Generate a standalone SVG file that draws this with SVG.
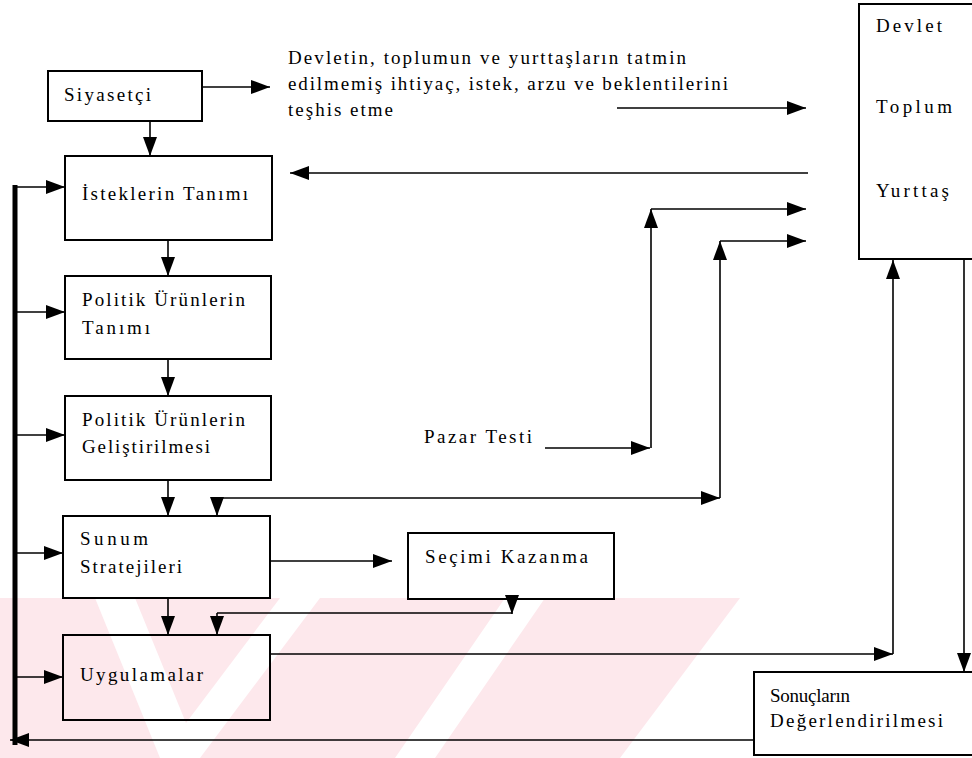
<svg xmlns="http://www.w3.org/2000/svg" width="972" height="758" viewBox="0 0 972 758">
<style>
.box{fill:none;stroke:#000;stroke-width:2}
.t{font-family:"Liberation Serif","Times New Roman",serif;font-size:19px;fill:#000}
.c{stroke:#000;stroke-width:1.6;fill:none}
.ca{stroke:#000;stroke-width:1.6;fill:none;marker-end:url(#ah)}
.wm{fill:#fde8ec}
</style>
<defs>
<marker id="ah" markerUnits="userSpaceOnUse" markerWidth="20" markerHeight="16" refX="19" refY="8" orient="auto" viewBox="0 0 20 16">
<path d="M0,1 L19,8 L0,15 Z" fill="#000"/>
</marker>
</defs>
<rect width="972" height="758" fill="#fff"/>
<g id="watermark">
<polygon class="wm" points="0,598 95,598 160,758 0,758"/>
<polygon class="wm" points="135,598 280,598 186,723"/>
<polygon class="wm" points="320,598 505,598 395,758 200,758"/>
<polygon class="wm" points="545,598 740,598 620,758 435,758"/>
</g>
<g id="connectors">
<line class="ca" x1="202" y1="87" x2="270" y2="87"/>
<line class="ca" x1="150" y1="121" x2="150" y2="156"/>
<line class="ca" x1="617" y1="108" x2="806" y2="108"/>
<line class="ca" x1="808" y1="173" x2="290" y2="173"/>
<line class="ca" x1="545" y1="448" x2="650" y2="448"/>
<line class="ca" x1="651" y1="448" x2="651" y2="209"/>
<line class="ca" x1="651" y1="209" x2="806" y2="209"/>
<line class="ca" x1="217" y1="498" x2="720" y2="498"/>
<line class="ca" x1="217" y1="498" x2="217" y2="516"/>
<line class="ca" x1="720" y1="498" x2="720" y2="241"/>
<line class="ca" x1="720" y1="241" x2="806" y2="241"/>
<line class="ca" x1="168" y1="240" x2="168" y2="276"/>
<line class="ca" x1="168" y1="359" x2="168" y2="396"/>
<line class="ca" x1="168" y1="480" x2="168" y2="516"/>
<line class="ca" x1="270" y1="561" x2="392" y2="561"/>
<line class="ca" x1="168" y1="598" x2="168" y2="635"/>
<line class="ca" x1="512" y1="597" x2="512" y2="614"/>
<line class="c" x1="512" y1="613" x2="217" y2="613"/>
<line class="ca" x1="217" y1="613" x2="217" y2="635"/>
<line class="ca" x1="270" y1="654" x2="893" y2="654"/>
<line class="ca" x1="893" y1="654" x2="893" y2="260"/>
<line class="ca" x1="964" y1="259" x2="964" y2="672"/>
<line class="ca" x1="754" y1="740" x2="10" y2="740"/>
<line x1="15" y1="185" x2="15" y2="745" stroke="#000" stroke-width="5"/>
<line class="ca" x1="15" y1="187" x2="65" y2="187"/>
<line class="ca" x1="15" y1="312" x2="65" y2="312"/>
<line class="ca" x1="15" y1="435" x2="65" y2="435"/>
<line class="ca" x1="15" y1="553" x2="63" y2="553"/>
<line class="ca" x1="15" y1="677" x2="63" y2="677"/>
</g>
<g id="n-desc">
<text class="t" x="288" y="64" textLength="398" lengthAdjust="spacing">Devletin, toplumun ve yurttaşların tatmin</text>
<text class="t" x="288" y="90" textLength="440" lengthAdjust="spacing">edilmemiş ihtiyaç, istek, arzu ve beklentilerini</text>
<text class="t" x="288" y="116" textLength="105" lengthAdjust="spacing">teşhis etme</text>
</g>
<g id="n-siyasetci">
<rect class="box" x="48" y="71" width="154" height="50"/>
<text class="t" x="64" y="101" textLength="87" lengthAdjust="spacing">Siyasetçi</text>
</g>
<g id="n-istekler">
<rect class="box" x="65" y="156" width="207" height="84"/>
<text class="t" x="82" y="200" textLength="166" lengthAdjust="spacing">İsteklerin Tanımı</text>
</g>
<g id="n-politik-tanim">
<rect class="box" x="65" y="276" width="206" height="83"/>
<text class="t" x="82" y="306" textLength="163" lengthAdjust="spacing">Politik Ürünlerin</text>
<text class="t" x="82" y="334" textLength="68" lengthAdjust="spacing">Tanımı</text>
</g>
<g id="n-politik-gelistir">
<rect class="box" x="65" y="396" width="206" height="84"/>
<text class="t" x="82" y="426" textLength="163" lengthAdjust="spacing">Politik Ürünlerin</text>
<text class="t" x="82" y="453" textLength="128" lengthAdjust="spacing">Geliştirilmesi</text>
</g>
<g id="n-sunum">
<rect class="box" x="63" y="516" width="207" height="82"/>
<text class="t" x="80" y="545" textLength="68" lengthAdjust="spacing">Sunum</text>
<text class="t" x="80" y="573" textLength="102" lengthAdjust="spacing">Stratejileri</text>
</g>
<g id="n-uygulamalar">
<rect class="box" x="63" y="635" width="207" height="85"/>
<text class="t" x="80" y="681" textLength="123" lengthAdjust="spacing">Uygulamalar</text>
</g>
<g id="n-secim">
<rect class="box" x="408" y="533" width="206" height="66"/>
<text class="t" x="425" y="563" textLength="163" lengthAdjust="spacing">Seçimi Kazanma</text>
</g>
<g id="n-pazar">
<text class="t" x="424" y="443" textLength="108" lengthAdjust="spacing">Pazar Testi</text>
</g>
<g id="n-devlet">
<rect class="box" x="859" y="4" width="130" height="255"/>
<text class="t" x="876" y="32" textLength="66" lengthAdjust="spacing">Devlet</text>
<text class="t" x="876" y="113" textLength="76" lengthAdjust="spacing">Toplum</text>
<text class="t" x="876" y="197" textLength="73" lengthAdjust="spacing">Yurttaş</text>
</g>
<g id="n-sonuc">
<rect class="box" x="754" y="672" width="240" height="83"/>
<text class="t" x="770" y="702" textLength="80" lengthAdjust="spacing">Sonuçların</text>
<text class="t" x="770" y="727" textLength="173" lengthAdjust="spacing">Değerlendirilmesi</text>
</g>
</svg>
